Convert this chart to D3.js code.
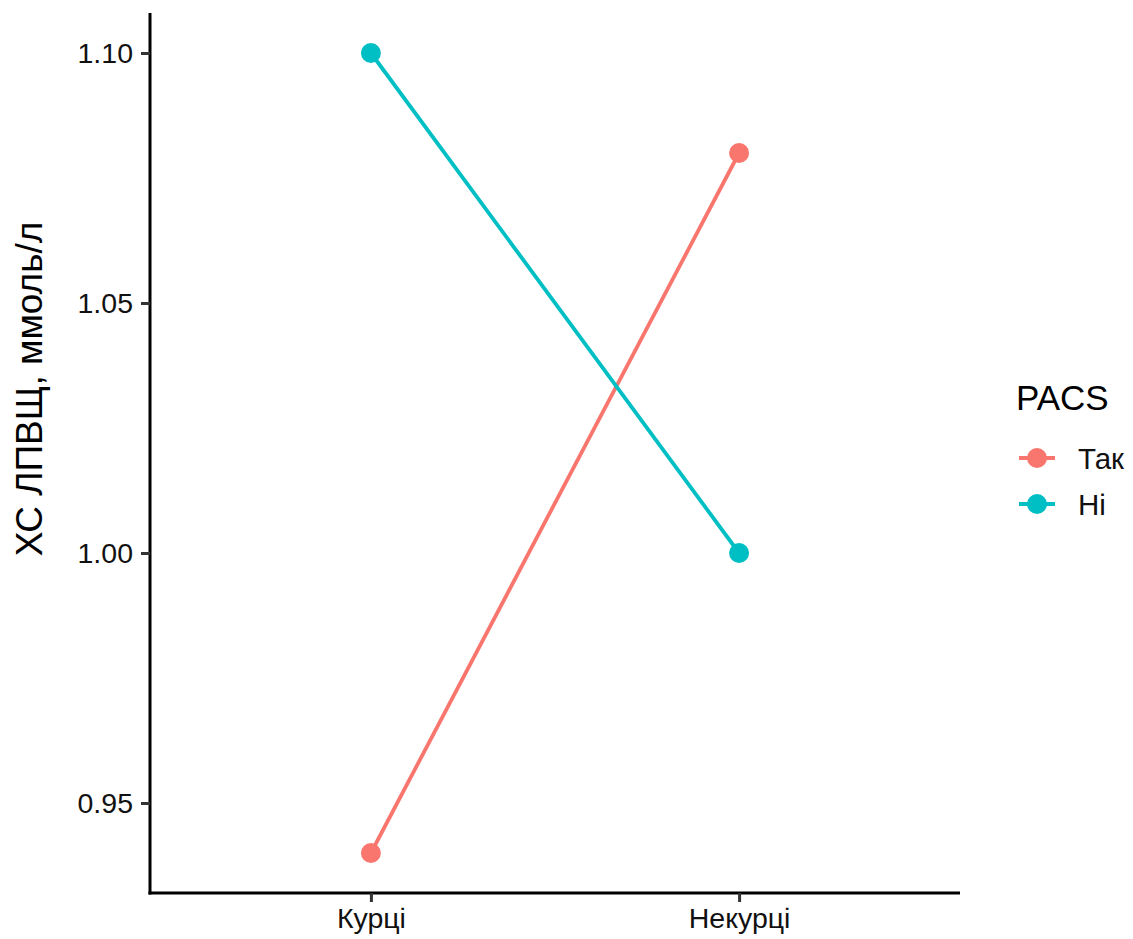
<!DOCTYPE html>
<html>
<head>
<meta charset="utf-8">
<script src="https://cdn.jsdelivr.net/npm/d3@7"></script>
<style>
  body { margin: 0; background: #fff; }
  svg { display: block; font-family: Arial, "Liberation Sans", sans-serif; }
</style>
</head>
<body>
<svg id="chart" width="1133" height="939"></svg>
<script>
// Smoking status groups on the x axis
const categories = ["Курці", "Некурці"];
// PACS groups
const seriesNames = ["Так", "Ні"];
const seriesColors = ["#F8766D", "#00BFC4"];
// HDL cholesterol means, per PACS group, in the order of categories
const valuesTak = [0.94, 1.08];
const valuesNi = [1.10, 1.00];
const yTicks = [0.95, 1.00, 1.05, 1.10];

const series = [
  { name: seriesNames[0], color: seriesColors[0], values: valuesTak },
  { name: seriesNames[1], color: seriesColors[1], values: valuesNi }
];

const svg = d3.select("#chart");
const plotLeft = 150, plotRight = 960, plotTop = 13, plotBottom = 893;

// Discrete x scale with ggplot-style 0.6 padding on each side
const x = d3.scalePoint().domain(categories).range([plotLeft, plotRight]).padding(0.6);

const allVals = valuesTak.concat(valuesNi);
const lo = d3.min(allVals), hi = d3.max(allVals), ex = (hi - lo) * 0.05;
const y = d3.scaleLinear().domain([lo - ex, hi + ex]).range([plotBottom, plotTop]);

// Lines and points
const line = d3.line().x((d, i) => x(categories[i])).y(d => y(d));
series.forEach(s => {
  svg.append("path")
    .attr("d", line(s.values))
    .attr("fill", "none")
    .attr("stroke", s.color)
    .attr("stroke-width", 3.8);
  svg.selectAll(null).data(s.values).enter().append("circle")
    .attr("cx", (d, i) => x(categories[i]))
    .attr("cy", d => y(d))
    .attr("r", 10)
    .attr("fill", s.color);
});

// Y axis
const yAxis = svg.append("g").attr("transform", `translate(${plotLeft},0)`)
  .call(d3.axisLeft(y).tickValues(yTicks).tickFormat(d3.format(".2f")).tickSize(9).tickPadding(8));
// X axis
const xAxis = svg.append("g").attr("transform", `translate(0,${plotBottom})`)
  .call(d3.axisBottom(x).tickSize(9).tickPadding(6));

[yAxis, xAxis].forEach(g => {
  g.select(".domain").attr("stroke", "#000").attr("stroke-width", 3);
  g.selectAll(".tick line").attr("stroke", "#333").attr("stroke-width", 3);
  g.selectAll(".tick text").attr("fill", "#111").attr("font-size", 28.5);
});
// Axis lines meet at the lower-left corner
yAxis.select(".domain").attr("d", `M0,${plotTop}V${plotBottom + 1.5}`);
xAxis.select(".domain").attr("d", `M${plotLeft - 1.5},0H${plotRight}`);

// Y axis title
svg.append("text")
  .attr("transform", "translate(42,389) rotate(-90)")
  .attr("text-anchor", "middle")
  .attr("font-size", 37)
  .attr("fill", "#000")
  .text("ХС ЛПВЩ, ммоль/л");

// Legend
const lg = svg.append("g").attr("transform", "translate(1016,0)");
lg.append("text").attr("x", 0).attr("y", 410).attr("font-size", 35).attr("fill", "#000").text("PACS");
series.forEach((s, i) => {
  const cy = 458 + i * 46;
  lg.append("line").attr("x1", 3).attr("x2", 39).attr("y1", cy).attr("y2", cy)
    .attr("stroke", s.color).attr("stroke-width", 3.8);
  lg.append("circle").attr("cx", 21).attr("cy", cy).attr("r", 10).attr("fill", s.color);
  lg.append("text").attr("x", 62).attr("y", cy).attr("dy", "0.36em")
    .attr("font-size", 29.5).attr("fill", "#111").text(s.name);
});
</script>
</body>
</html>
